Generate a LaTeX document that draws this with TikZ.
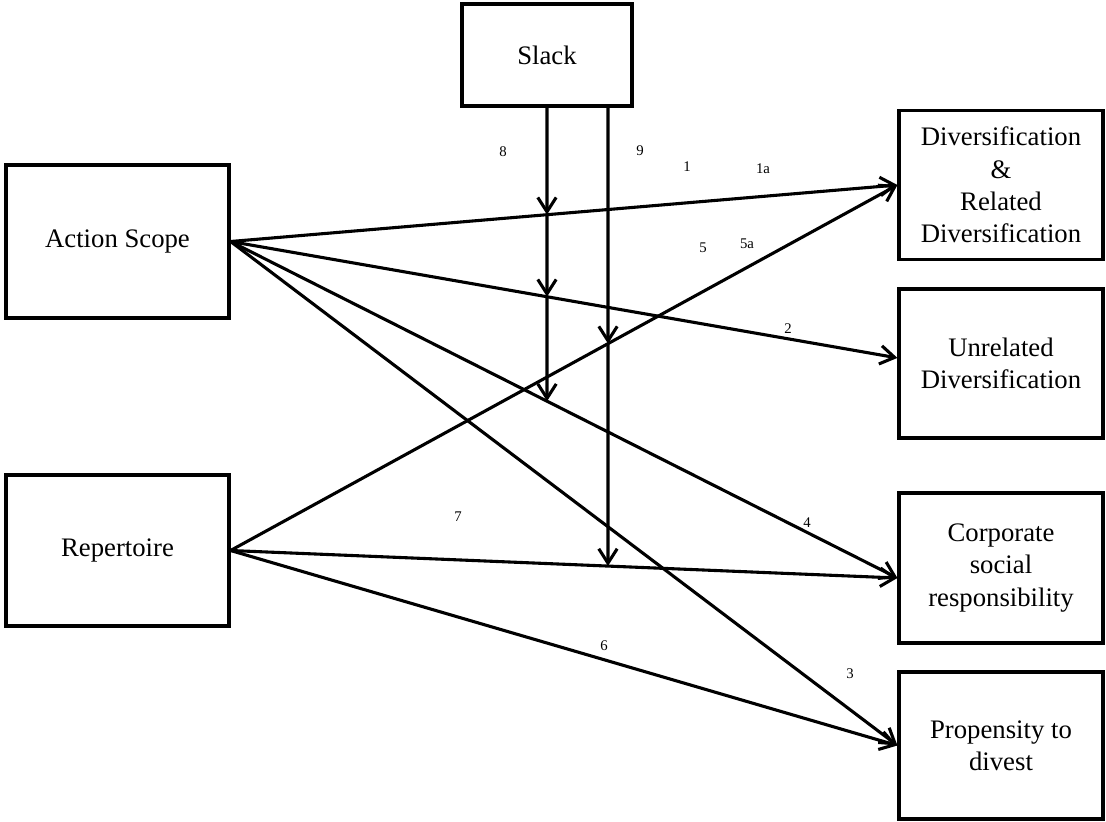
\documentclass[tikz,border=0pt]{standalone}
\usepackage{fontspec}
\setmainfont{Liberation Serif}
\usetikzlibrary{arrows.meta,calc}
\tikzset{
  box/.style={draw,line width=2.2pt,align=center,font=\fontsize{19}{23}\selectfont,inner sep=2pt},
  conn/.style={line width=2.2pt,-{Straight Barb[length=3.6mm,width=4.6mm,line width=2.2pt]}},
  num/.style={font=\fontsize{10.5}{12}\selectfont,inner sep=1pt}
}
\begin{document}
\begin{tikzpicture}[x=0.025cm,y=-0.025cm]
\useasboundingbox (0,0) rectangle (1106,822);
% boxes
\node[box,minimum width=4.25cm,minimum height=2.55cm] (slack) at (547,55) {Slack};
\node[box,minimum width=5.575cm,minimum height=3.825cm] (as) at (117.5,241.5) {Action Scope};
\node[box,minimum width=5.575cm,minimum height=3.775cm] (rep) at (117.5,550.5) {Repertoire};
\node[box,minimum width=5.1cm,minimum height=3.725cm] (drel) at (1001,185) {Diversification\\\&\\Related\\Diversification};
\node[box,minimum width=5.1cm,minimum height=3.725cm] (unrel) at (1001,363.5) {Unrelated\\Diversification};
\node[box,minimum width=5.1cm,minimum height=3.75cm] (csr) at (1001,568) {Corporate\\social\\responsibility};
\node[box,minimum width=5.1cm,minimum height=3.675cm] (div) at (1001,745.5) {Propensity to\\divest};
% entry points
\coordinate (unrelIn) at ([yshift=0.14cm]unrel.west);
\coordinate (csrIn) at ([yshift=-0.25cm]csr.west);
% main paths
\draw[conn] (as.east) -- (drel.west);
\draw[conn] (as.east) -- (unrelIn);
\draw[conn] (as.east) -- (csrIn);
\draw[conn] (as.east) -- (div.west);
\draw[conn] (rep.east) -- (drel.west);
\draw[conn] (rep.east) -- (csrIn);
\draw[conn] (rep.east) -- (div.west);
% slack moderation
\coordinate (sa) at (slack.south);
\coordinate (saEnd) at (sa |- rep.south);
\coordinate (sb) at ([xshift=1.525cm]slack.south);
\coordinate (sbEnd) at (sb |- rep.south);
\coordinate (a1) at (intersection of as.east--drel.west and sa--saEnd);
\coordinate (a2) at (intersection of as.east--unrelIn and sa--saEnd);
\coordinate (a3) at (intersection of as.east--csrIn and sa--saEnd);
\coordinate (b1) at (intersection of rep.east--drel.west and sb--sbEnd);
\coordinate (b2) at (intersection of rep.east--csrIn and sb--sbEnd);
\draw[conn] (sa) -- (a1);
\draw[conn] (a1) -- (a2);
\draw[conn] (a2) -- (a3);
\draw[conn] (sb) -- (b1);
\draw[conn] (b1) -- (b2);
% path numbers
\node[num] (n8) at (503,152) {8};
\node[num] (n9) at (640,151) {9};
\node[num] (n1) at (687,167) {1};
\node[num] (n1a) at (763,169) {1a};
\node[num] (n5) at (703,248) {5};
\node[num] (n5a) at (747,244) {5a};
\node[num] (n2) at (788,329) {2};
\node[num] (n7) at (458,517) {7};
\node[num] (n4) at (807,523) {4};
\node[num] (n6) at (604,646) {6};
\node[num] (n3) at (850,674) {3};
\end{tikzpicture}
\end{document}
